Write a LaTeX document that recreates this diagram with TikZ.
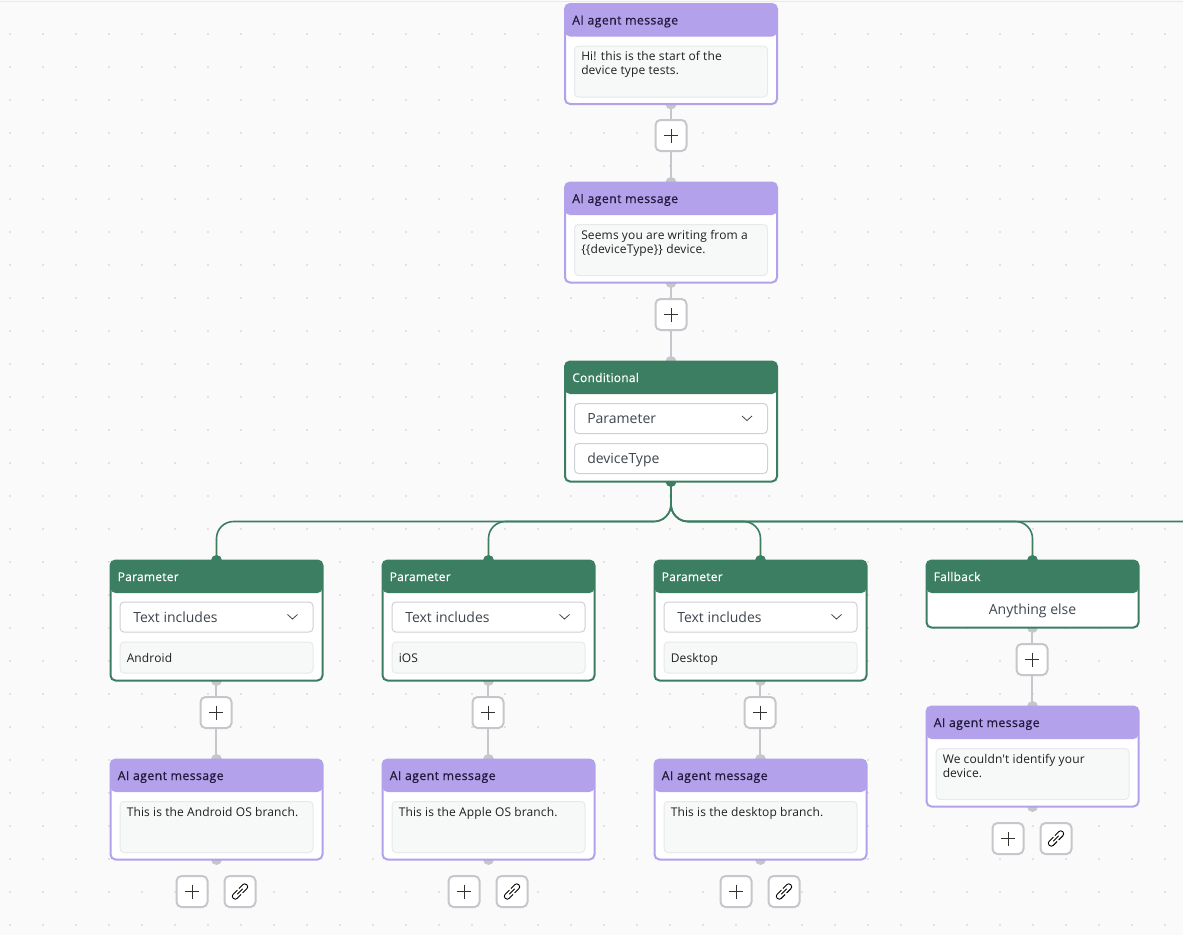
\documentclass[tikz,border=0pt]{standalone}
\usepackage{fontspec}
\setmainfont{Open Sans}[LetterSpace=1.1]
\newfontfamily\hdfont{Open Sans}[FakeBold=0.45,LetterSpace=2]
\newfontfamily\hdpfont{Open Sans}[FakeBold=0.6,LetterSpace=3.5]
\newfontfamily\selfont{Open Sans}
\usetikzlibrary{backgrounds}
\newdimen\pxu \pxu=0.75pt
\definecolor{bgc}{HTML}{FAFAFA}
\definecolor{dotc}{HTML}{C9CBCB}
\definecolor{topc}{HTML}{E9E9E9}
\definecolor{grn}{HTML}{3C7E62}
\definecolor{pur}{HTML}{B3A1EC}
\definecolor{gry}{HTML}{C5C7CC}
\definecolor{fldb}{HTML}{E7E9EA}
\definecolor{fldf}{HTML}{F7F9F8}
\definecolor{selb}{HTML}{CDD0D4}
\definecolor{darkt}{HTML}{211A3A}
\definecolor{selt}{HTML}{3F4650}
\tikzset{
  cardbox/.style={rectangle,anchor=north west,inner sep=0,outer sep=0,fill=white,rounded corners=5\pxu,line width=2\pxu,minimum width=212\pxu},
  hdr/.style={path picture={\fill[#1] (path picture bounding box.north west) rectangle ([yshift=-32.5\pxu]path picture bounding box.north east);}},
  hdtext/.style={anchor=base west,inner sep=0,font=\hdfont\fontsize{9pt}{10.5pt}\selectfont},
  hdptext/.style={anchor=base west,inner sep=0,font=\hdpfont\fontsize{9.2pt}{10.5pt}\selectfont},
  msgfield/.style={rectangle,anchor=north west,inner sep=0,outer sep=0,draw=fldb,fill=fldf,line width=1\pxu,rounded corners=4\pxu,minimum width=193\pxu},
  selfield/.style={rectangle,anchor=north west,inner sep=0,outer sep=0,draw=selb,fill=white,line width=1\pxu,rounded corners=4\pxu,minimum width=193\pxu,minimum height=30\pxu},
  bodytext/.style={anchor=north west,inner sep=0,align=left,text=black!88,font=\fontsize{9pt}{10.5pt}\selectfont},
  seltext/.style={anchor=base west,inner sep=0,text=selt,font=\selfont\fontsize{10.5pt}{12pt}\selectfont},
  btn/.style={rectangle,inner sep=0,outer sep=0,draw=gry,fill=white,line width=2\pxu,rounded corners=5\pxu,minimum size=31\pxu},
  conn/.style={draw=gry,line width=2\pxu},
  gline/.style={draw=grn,line width=1.6\pxu,rounded corners=17\pxu},
  gbump/.style={fill=gry},
  vbump/.style={fill=grn},
}
\newcommand{\plusbtn}[3]{%
  \node[btn] (#1) at (#2,#3) {};
  \draw[black!80,line width=1\pxu] (#2-7,#3) -- (#2+7,#3) (#2,#3-7) -- (#2,#3+7);
}
\newcommand{\linkbtn}[3]{%
  \node[btn] (#1) at (#2,#3) {};
  \begin{scope}[shift={(#2,#3)},rotate=45,black,line width=.9\pxu]
    \draw[rounded corners=2.6\pxu] (-1.4,2.9) -- (-9.5,2.9) -- (-9.5,-2.9) -- (-0.8,-2.9);
    \draw[rounded corners=2.6\pxu] (1.4,-2.9) -- (9.5,-2.9) -- (9.5,2.9) -- (0.8,2.9);
    \draw (-3.8,0) -- (3.8,0);
  \end{scope}
}
\newcommand{\msgcard}[4]{% id, x, y, text
  \node[cardbox,draw=pur,hdr=pur,minimum height=100\pxu] (#1) at (#2,#3) {};
  \node[hdptext,text=darkt] (#1-h) at (#2+7,#3+20.5) {AI agent message};
  \node[msgfield,minimum height=51\pxu] (#1-f) at (#2+9.5,#3+42) {};
  \node[bodytext] (#1-t) at (#2+16,#3+47.2) {#4};
}
\newcommand{\chev}[2]{\draw[selt,line width=.8\pxu] (#1-5,#2-2.5) -- (#1,#2+2) -- (#1+5,#2-2.5);}
\newcommand{\paramcard}[4]{% id, x, y, value
  \node[cardbox,draw=grn,hdr=grn,minimum height=120\pxu] (#1) at (#2,#3) {};
  \node[hdtext,text=white] (#1-h) at (#2+7,#3+20.5) {Parameter};
  \node[selfield] (#1-s) at (#2+9.5,#3+41.5) {};
  \node[seltext] (#1-st) at (#2+22.5,#3+61.5) {Text includes};
  \chev{#2+182}{#3+56.5}
  \node[msgfield,minimum height=31\pxu] (#1-f) at (#2+9.5,#3+81.5) {};
  \node[bodytext,anchor=base west] (#1-t) at (#2+16,#3+101.5) {#4};
}
\begin{document}
\begin{tikzpicture}[x=0.75pt,y=-0.75pt]
\useasboundingbox (0,0) rectangle (1183,935);
\begin{scope}[on background layer]
\fill[bgc] (0,0) rectangle (1183,935);
\draw[topc,line width=1\pxu] (0,1) -- (1183,1);
\foreach \i in {0,...,35} \foreach \j in {1,...,28}
  \fill[dotc] (10+33*\i,1+33*\j) circle[radius=0.8];
\end{scope}

\msgcard{m1}{565}{4}{Hi! this is the start of the\\device type tests.}
\plusbtn{p1}{671}{135.5}
\msgcard{m2}{565}{182.5}{Seems you are writing from a\\\{\{deviceType\}\} device.}
\plusbtn{p2}{671}{314.5}

\node[cardbox,draw=grn,hdr=grn,minimum height=120\pxu] (cond) at (565,361.5) {};
\node[hdtext,text=white] (cond-h) at (572,382) {Conditional};
\node[selfield] (cond-s) at (574.5,403.5) {};
\node[seltext] (cond-st) at (587,423) {Parameter};
\chev{747}{418.5}
\node[selfield] (cond-v) at (574.5,443.5) {};
\node[seltext] (cond-vt) at (587,463) {deviceType};

\paramcard{b1}{110.5}{560.5}{Android}
\plusbtn{p3}{216}{712.5}
\msgcard{m3}{110.5}{759.5}{This is the Android OS branch.}
\plusbtn{p3a}{192}{891.5}
\linkbtn{l3}{240}{891.5}

\paramcard{b2}{382.5}{560.5}{iOS}
\plusbtn{p4}{488}{712.5}
\msgcard{m4}{382.5}{759.5}{This is the Apple OS branch.}
\plusbtn{p4a}{464}{891.5}
\linkbtn{l4}{512}{891.5}

\paramcard{b3}{654.5}{560.5}{Desktop}
\plusbtn{p5}{760}{712.5}
\msgcard{m5}{654.5}{759.5}{This is the desktop branch.}
\plusbtn{p5a}{736}{891.5}
\linkbtn{l5}{784}{891.5}

\node[cardbox,draw=grn,hdr=grn,minimum height=67\pxu] (b4) at (926.5,560.5) {};
\node[hdtext,text=white] (b4-h) at (933.5,581) {Fallback};
\node[seltext,anchor=base] (b4-t) at (1032.5,614) {Anything else};
\plusbtn{p6}{1032}{659.5}
\msgcard{m6}{926.5}{706.5}{We couldn\textquotesingle t identify your\\device.}
\plusbtn{p6a}{1008}{838.5}
\linkbtn{l6}{1056}{838.5}

\coordinate (bus) at (671,521.5);
\coordinate (busend) at (1183,521.5);

\begin{scope}[on background layer]
  \foreach \n in {m1.south,m2.north,m2.south,b1.south,m3.north,m3.south,b2.south,m4.north,m4.south,b3.south,m5.north,m5.south,b4.south,m6.north,m6.south,cond.north}
    \fill[gbump] (\n) circle[radius=5.5];
  \foreach \n in {cond.south,b1.north,b2.north,b3.north,b4.north}
    \fill[vbump] (\n) circle[radius=5.5];
  \draw[conn] (m1.south) -- (p1.north);
  \draw[conn] (p1.south) -- (m2.north);
  \draw[conn] (m2.south) -- (p2.north);
  \draw[conn] (p2.south) -- (cond.north);
  \draw[conn] (b1.south -| p3.north) -- (p3.north);
  \draw[conn] (p3.south) -- (m3.north -| p3.south);
  \draw[conn] (b2.south -| p4.north) -- (p4.north);
  \draw[conn] (p4.south) -- (m4.north -| p4.south);
  \draw[conn] (b3.south -| p5.north) -- (p5.north);
  \draw[conn] (p5.south) -- (m5.north -| p5.south);
  \draw[conn] (b4.south -| p6.north) -- (p6.north);
  \draw[conn] (p6.south) -- (m6.north -| p6.south);
  \draw[gline] (cond.south) -- (bus) -- (bus -| b1.north) -- (b1.north);
  \draw[gline] (cond.south) -- (bus) -- (bus -| b2.north) -- (b2.north);
  \draw[gline] (cond.south) -- (bus) -- (bus -| b3.north) -- (b3.north);
  \draw[gline] (cond.south) -- (bus) -- (bus -| b4.north) -- (b4.north);
  \draw[gline] (cond.south) -- (bus) -- (busend);
\end{scope}
\end{tikzpicture}
\end{document}
